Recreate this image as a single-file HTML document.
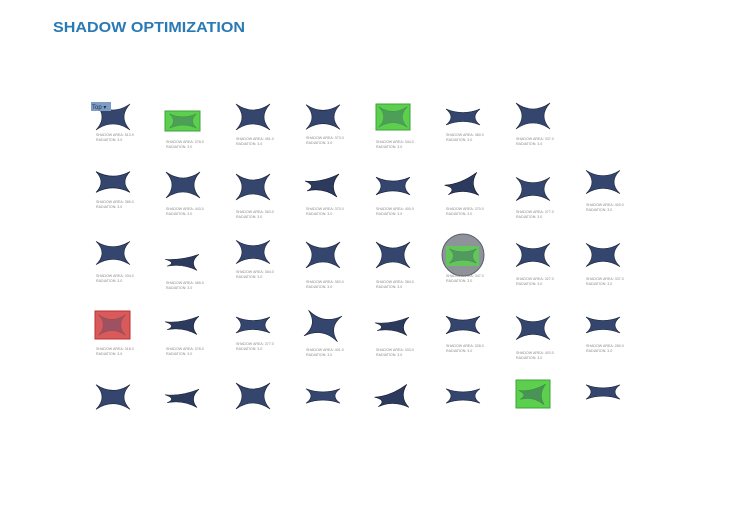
<!DOCTYPE html>
<html><head><meta charset="utf-8"><style>
html,body{margin:0;padding:0;background:#fff;width:730px;height:516px;overflow:hidden}
svg{display:block}
.t{font-family:"Liberation Sans",sans-serif;font-size:3.6px;fill:#8a8a8a}
</style></head><body>
<svg width="730" height="516" viewBox="0 0 730 516" xmlns="http://www.w3.org/2000/svg">
<defs>
<path id="s" d="M-17,-13 Q0,-1 17,-13 Q5,0 17,13 Q0,1 -17,13 Q-5,0 -17,-13Z" fill="#34466e" stroke="#1a2238" stroke-width="0.6"/>
<path id="f" d="M-17,-8 Q0,-1 17,-8 Q7,0 17,8 Q0,1 -17,8 Q-7,0 -17,-8Z" fill="#34466e" stroke="#1a2238" stroke-width="0.6"/>
<path id="k" d="M-18,-4 Q-2,-2 16,-11 Q6,0 14,12 Q0,2 -16,6 Q-6,1 -18,-4Z" fill="#2c3a5e" stroke="#151a2c" stroke-width="0.6"/>
</defs>
<text x="53" y="32" font-family="Liberation Sans,sans-serif" font-size="15" font-weight="bold" fill="#2a7ab3" textLength="192" lengthAdjust="spacingAndGlyphs">SHADOW OPTIMIZATION</text>

<!-- row 1 -->
<use href="#s" transform="translate(113,117)"/>
<rect x="91" y="102" width="20" height="9" fill="#7f9cc4"/><text x="92" y="109" font-family="Liberation Sans,sans-serif" font-size="6" fill="#203050">Top ▾</text>
<rect x="165" y="111" width="35" height="20" fill="#5ccf4f" stroke="#3da33a"/><use href="#f" transform="translate(183,121) scale(0.8,0.9)" opacity="0.35"/>
<use href="#s" transform="translate(253,117)"/>
<use href="#s" transform="translate(323,117) scale(1,0.95)"/>
<rect x="376" y="104" width="34" height="26" fill="#5ccf4f" stroke="#3da33a"/><use href="#s" transform="translate(393,117) scale(0.85,0.8)" opacity="0.35"/>
<use href="#f" transform="translate(463,117)"/>
<use href="#s" transform="translate(533,116)"/>

<!-- row 2 -->
<use href="#f" transform="translate(113,182) scale(1,1.3)"/>
<use href="#s" transform="translate(183,185)"/>
<use href="#s" transform="translate(253,187)"/>
<use href="#k" transform="translate(323,185)"/>
<use href="#f" transform="translate(393,186) scale(1,1.1)"/>
<use href="#k" transform="translate(463,186) rotate(-10)"/>
<use href="#s" transform="translate(533,189) scale(1,0.9)"/>
<use href="#s" transform="translate(603,182) scale(1,0.9)"/>

<!-- row 3 -->
<use href="#s" transform="translate(113,253) scale(1,0.9)"/>
<use href="#k" transform="translate(183,262) scale(1,0.7)"/>
<use href="#s" transform="translate(253,252) scale(1,0.9)"/>
<use href="#s" transform="translate(323,255)"/>
<use href="#s" transform="translate(393,255)"/>
<circle cx="463" cy="255" r="21" fill="#8d9399" stroke="#5b6066"/>
<rect x="446" y="246" width="33" height="20" fill="#5ccf4f" opacity="0.85"/><use href="#f" transform="translate(463,256) scale(0.8,0.9)" opacity="0.35"/>
<use href="#s" transform="translate(533,255) scale(1,0.9)"/>
<use href="#s" transform="translate(603,255) scale(1,0.9)"/>

<!-- row 4 -->
<rect x="95" y="311" width="35" height="28" fill="#d95a5a" stroke="#b33"/><use href="#s" transform="translate(112,325) scale(0.8,0.8)" opacity="0.35"/>
<use href="#k" transform="translate(183,325) scale(1,0.8)"/>
<use href="#f" transform="translate(253,325)"/>
<use href="#s" transform="translate(323,326) rotate(10)"/>
<use href="#k" transform="translate(393,326) scale(1,0.8)"/>
<use href="#f" transform="translate(463,325) scale(1,1.1)"/>
<use href="#s" transform="translate(533,328) scale(1,0.9)"/>
<use href="#f" transform="translate(603,325)"/>

<!-- row 5 -->
<use href="#s" transform="translate(113,397) scale(1,0.95)"/>
<use href="#k" transform="translate(183,398) scale(1,0.8)"/>
<use href="#s" transform="translate(253,396)"/>
<use href="#f" transform="translate(323,396) scale(1,0.9)"/>
<use href="#k" transform="translate(393,398) rotate(-10)"/>
<use href="#f" transform="translate(463,396) scale(1,0.9)"/>
<rect x="516" y="380" width="34" height="28" fill="#5ccf4f" stroke="#3da33a"/><use href="#k" transform="translate(533,394) scale(0.8,0.9)" opacity="0.4"/>
<use href="#f" transform="translate(603,392) scale(1,0.9)"/>

<!-- labels -->
<g class="t">
<text x="96" y="136">SHADOW AREA: 513.9</text><text x="96" y="141">RADIATION: 3.0</text>
<text x="166" y="143">SHADOW AREA: 378.0</text><text x="166" y="148">RADIATION: 3.0</text>
<text x="236" y="140">SHADOW AREA: 451.0</text><text x="236" y="145">RADIATION: 3.0</text>
<text x="306" y="139">SHADOW AREA: 373.0</text><text x="306" y="144">RADIATION: 3.0</text>
<text x="376" y="143">SHADOW AREA: 344.0</text><text x="376" y="148">RADIATION: 3.0</text>
<text x="446" y="136">SHADOW AREA: 460.0</text><text x="446" y="141">RADIATION: 3.0</text>
<text x="516" y="140">SHADOW AREA: 337.0</text><text x="516" y="145">RADIATION: 3.0</text>

<text x="96" y="203">SHADOW AREA: 389.0</text><text x="96" y="208">RADIATION: 3.0</text>
<text x="166" y="210">SHADOW AREA: 443.0</text><text x="166" y="215">RADIATION: 3.0</text>
<text x="236" y="213">SHADOW AREA: 363.0</text><text x="236" y="218">RADIATION: 3.0</text>
<text x="306" y="210">SHADOW AREA: 370.0</text><text x="306" y="215">RADIATION: 3.0</text>
<text x="376" y="210">SHADOW AREA: 400.0</text><text x="376" y="215">RADIATION: 3.0</text>
<text x="446" y="210">SHADOW AREA: 370.0</text><text x="446" y="215">RADIATION: 3.0</text>
<text x="516" y="213">SHADOW AREA: 377.0</text><text x="516" y="218">RADIATION: 3.0</text>
<text x="586" y="206">SHADOW AREA: 400.0</text><text x="586" y="211">RADIATION: 3.0</text>

<text x="96" y="277">SHADOW AREA: 334.0</text><text x="96" y="282">RADIATION: 3.0</text>
<text x="166" y="284">SHADOW AREA: 465.0</text><text x="166" y="289">RADIATION: 3.0</text>
<text x="236" y="273">SHADOW AREA: 364.0</text><text x="236" y="278">RADIATION: 3.0</text>
<text x="306" y="283">SHADOW AREA: 363.0</text><text x="306" y="288">RADIATION: 3.0</text>
<text x="376" y="283">SHADOW AREA: 384.0</text><text x="376" y="288">RADIATION: 3.0</text>
<text x="446" y="277">SHADOW AREA: 347.0</text><text x="446" y="282">RADIATION: 3.0</text>
<text x="516" y="280">SHADOW AREA: 327.0</text><text x="516" y="285">RADIATION: 3.0</text>
<text x="586" y="280">SHADOW AREA: 337.0</text><text x="586" y="285">RADIATION: 3.0</text>

<text x="96" y="350">SHADOW AREA: 318.0</text><text x="96" y="355">RADIATION: 3.0</text>
<text x="166" y="350">SHADOW AREA: 378.0</text><text x="166" y="355">RADIATION: 3.0</text>
<text x="236" y="345">SHADOW AREA: 377.0</text><text x="236" y="350">RADIATION: 3.0</text>
<text x="306" y="351">SHADOW AREA: 401.0</text><text x="306" y="356">RADIATION: 3.0</text>
<text x="376" y="351">SHADOW AREA: 433.0</text><text x="376" y="356">RADIATION: 3.0</text>
<text x="446" y="347">SHADOW AREA: 328.0</text><text x="446" y="352">RADIATION: 3.0</text>
<text x="516" y="354">SHADOW AREA: 403.0</text><text x="516" y="359">RADIATION: 3.0</text>
<text x="586" y="347">SHADOW AREA: 280.0</text><text x="586" y="352">RADIATION: 3.0</text>
</g>
</svg>
</body></html>
